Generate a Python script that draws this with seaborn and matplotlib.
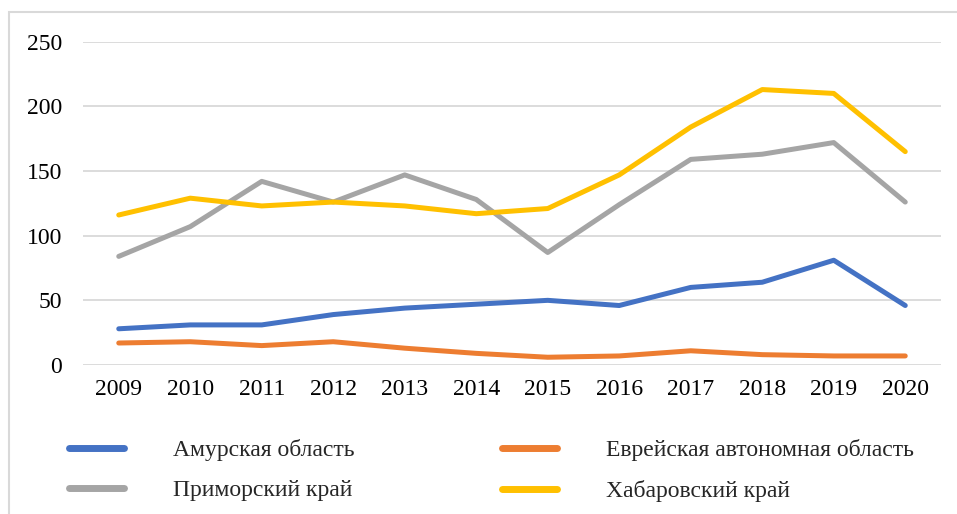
import matplotlib
matplotlib.use("Agg")
import matplotlib.pyplot as plt
import seaborn as sns
import pandas as pd
from matplotlib.patches import Rectangle
from matplotlib.lines import Line2D

years = [2009, 2010, 2011, 2012, 2013, 2014, 2015, 2016, 2017, 2018, 2019, 2020]
amur = [28, 31, 31, 39, 44, 47, 50, 46, 60, 64, 81, 46]
jewish = [17, 18, 15, 18, 13, 9, 6, 7, 11, 8, 7, 7]
primorsky = [84, 107, 142, 126, 147, 128, 87, 124, 159, 163, 172, 126]
khabarovsk = [116, 129, 123, 126, 123, 117, 121, 147, 184, 213, 210, 165]
regions = ["Амурская область", "Еврейская автономная область", "Приморский край", "Хабаровский край"]
colors = ["#4472C4", "#ED7D31", "#A5A5A5", "#FFC000"]
yticks = [0, 50, 100, 150, 200, 250]

rows = []
for name, vals in zip(regions, [amur, jewish, primorsky, khabarovsk]):
    for y, v in zip(years, vals):
        rows.append({"year": y, "value": v, "region": name})
df = pd.DataFrame(rows)

sns.set_style("white")
plt.rcParams["font.family"] = ["Liberation Serif", "DejaVu Serif"]

W, H = 957, 514
fig = plt.figure(figsize=(W / 100, H / 100), dpi=100)
ax = fig.add_axes([83 / W, (H - 365) / H, 858 / W, 323.3 / H])

sns.lineplot(data=df, x="year", y="value", hue="region", hue_order=regions,
             palette=colors, linewidth=3.6, legend=False, ax=ax)

ax.set_xlim(2008.5, 2020.5)
ax.set_ylim(0, 250)
ax.set_xticks(years)
ax.set_xticklabels([str(y) for y in years])
ax.set_yticks(yticks)
ax.set_yticklabels([str(t) for t in yticks])
ax.grid(axis="y", color="#D9D9D9", linewidth=1.3)
ax.grid(axis="x", visible=False)
ax.set_axisbelow(True)
for s in ax.spines.values():
    s.set_visible(False)
ax.tick_params(axis="both", length=0, labelsize=17, colors="black")
ax.tick_params(axis="y", pad=15)
ax.tick_params(axis="x", pad=10)
ax.set_xlabel("")
ax.set_ylabel("")

# outer chart border
fig.patches.append(Rectangle((9 / W, -0.1), 1.0, (H - 12) / H + 0.1,
                             transform=fig.transFigure, fill=False,
                             edgecolor="#D9D9D9", linewidth=1.5))

handles = [Line2D([], [], color=c, linewidth=5, solid_capstyle="round") for c in colors]
order = [0, 2, 1, 3]
leg = fig.legend([handles[i] for i in order], [regions[i] for i in order],
                 ncol=2, loc="center left", bbox_to_anchor=(48 / W, (H - 470.5) / H),
                 frameon=False, fontsize=17, handlelength=2.3, handletextpad=2.1,
                 columnspacing=6.25, labelspacing=0.8)

fig.savefig("out.png", dpi=100)
